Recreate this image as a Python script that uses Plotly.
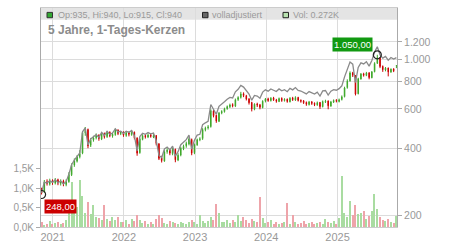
import plotly.graph_objects as go
import pandas as pd

# ---------------- data (14-day candles) ----------------
dates = pd.date_range("2020-11-05", periods=131, freq="14D")

opens = [262, 255, 283, 276, 286, 279, 289, 278, 285, 275,
         283, 304, 336, 350, 366, 380, 468, 485, 412, 436,
         446, 457, 440, 466, 451, 472, 454, 460, 483, 465,
         472, 456, 469, 460, 472, 444, 382, 438, 456, 449,
         459, 450, 456, 418, 362, 350, 386, 393, 378, 396,
         354, 373, 398, 410, 418, 438, 382, 414, 438, 442,
         484, 494, 500, 588, 562, 528, 576, 584, 602, 614,
         628, 618, 662, 676, 702, 688, 666, 642, 598, 632,
         626, 608, 652, 666, 654, 672, 658, 648, 670, 654,
         664, 646, 672, 658, 676, 656, 652, 642, 628, 646,
         636, 626, 642, 614, 646, 652, 618, 644, 656, 648,
         662, 682, 748, 802, 872, 848, 702, 818, 862, 848,
         872, 828, 882, 962, 1018, 932, 898, 916, 878, 906,
         935]
highs = [266, 288, 290, 292, 290, 294, 292, 290, 289, 290,
         312, 342, 360, 372, 392, 478, 498, 490, 445, 455,
         466, 462, 472, 470, 478, 476, 470, 490, 486, 478,
         476, 476, 475, 480, 475, 448, 446, 462, 462, 466,
         465, 462, 458, 422, 370, 392, 400, 398, 402, 398,
         380, 406, 415, 428, 448, 442, 420, 442, 448, 492,
         500, 508, 598, 595, 566, 582, 592, 608, 622, 634,
         636, 668, 684, 716, 712, 694, 670, 646, 636, 640,
         632, 656, 672, 674, 678, 680, 666, 675, 676, 670,
         668, 678, 680, 684, 680, 662, 658, 648, 652, 650,
         642, 648, 645, 655, 660, 655, 652, 662, 664, 668,
         690, 755, 815, 885, 880, 852, 828, 870, 872, 880,
         876, 888, 972, 1050, 1024, 940, 925, 920, 912, 914,
         940]
lows = [248, 252, 272, 272, 274, 275, 273, 272, 270, 270,
        280, 300, 330, 345, 360, 376, 455, 400, 405, 428,
        438, 432, 435, 442, 445, 448, 446, 455, 458, 458,
        450, 450, 452, 455, 438, 370, 378, 434, 442, 444,
        446, 444, 412, 354, 345, 348, 378, 372, 372, 346,
        350, 368, 392, 402, 412, 372, 376, 410, 430, 436,
        476, 485, 495, 550, 520, 524, 568, 578, 595, 606,
        610, 612, 652, 668, 678, 655, 628, 585, 592, 612,
        598, 604, 642, 646, 648, 652, 640, 644, 646, 648,
        640, 642, 652, 652, 648, 640, 632, 620, 622, 626,
        618, 620, 600, 610, 638, 598, 614, 638, 642, 642,
        655, 676, 740, 795, 835, 690, 698, 812, 838, 842,
        815, 824, 876, 955, 915, 880, 885, 840, 872, 878,
        915]
closes = [252, 282, 278, 285, 280, 288, 279, 284, 276, 282,
          305, 335, 352, 365, 378, 470, 488, 410, 435, 445,
          455, 442, 465, 450, 470, 455, 462, 482, 466, 470,
          458, 468, 462, 470, 445, 380, 440, 455, 450, 458,
          452, 455, 420, 360, 352, 385, 392, 380, 395, 355,
          372, 400, 408, 420, 440, 380, 415, 437, 440, 485,
          492, 498, 590, 560, 530, 575, 585, 600, 615, 625,
          620, 660, 675, 700, 690, 665, 640, 600, 630, 625,
          610, 650, 665, 655, 670, 660, 650, 668, 655, 662,
          648, 670, 660, 675, 655, 650, 640, 630, 645, 635,
          628, 640, 615, 648, 650, 620, 645, 655, 650, 660,
          680, 745, 800, 870, 850, 700, 820, 860, 850, 870,
          830, 880, 960, 1020, 930, 900, 915, 880, 905, 890,
          940]
adjusted = [252, 282, 279, 286, 281, 289, 280, 285, 277, 283,
            306, 337, 354, 367, 381, 474, 493, 414, 440, 450,
            460, 447, 471, 456, 476, 461, 468, 489, 473, 477,
            466, 477, 471, 480, 455, 389, 451, 467, 462, 470,
            464, 468, 433, 371, 363, 397, 405, 393, 409, 368,
            386, 415, 424, 437, 458, 396, 434, 458, 462, 510,
            520, 528, 628, 598, 568, 617, 630, 647, 664, 676,
            672, 716, 735, 765, 752, 726, 700, 657, 690, 686,
            670, 714, 731, 721, 738, 728, 718, 738, 724, 732,
            717, 742, 731, 748, 727, 722, 711, 701, 718, 707,
            700, 714, 686, 723, 726, 693, 721, 733, 728, 740,
            762, 836, 898, 975, 953, 787, 921, 966, 955, 978,
            934, 990, 1080, 1140, 1048, 1014, 1032, 993, 1021, 1005,
            1020]
volumes = [120, 60, 90, 150, 70, 100, 130, 80, 110, 180,
           450, 1150, 500, 520, 1200, 800, 350, 650, 330, 570,
           250, 220, 180, 560, 200, 150, 260, 190, 250, 140,
           120, 170, 90, 200, 150, 300, 180, 110, 160, 90,
           130, 80, 200, 300, 220, 110, 90, 150, 120, 100,
           80, 130, 100, 90, 140, 180, 120, 90, 300, 160,
           110, 150, 250, 180, 600, 350, 140, 120, 170, 100,
           190, 120, 320, 160, 250, 180, 110, 200, 150, 120,
           770, 220, 100, 140, 180, 90, 120, 80, 110, 130,
           620, 90, 300, 120, 80, 110, 150, 90, 100, 120,
           70, 110, 140, 90, 200, 120, 100, 150, 90, 230,
           1300, 350, 250, 670, 300, 570, 330, 350, 400, 200,
           280, 400, 850, 450, 250, 170, 150, 210, 130, 110,
           272]

price_ticks = [200, 400, 600, 800, 1000, 1200]
price_tick_text = ["200", "400", "600", "800", "1.000", "1.200"]
vol_ticks = [0, 500, 1000, 1500]
vol_tick_text = ["0,0K", "0,5K", "1,0K", "1,5K"]
year_ticks = ["2021-01-01", "2022-01-01", "2023-01-01", "2024-01-01", "2025-01-01"]
year_text = ["2021", "2022", "2023", "2024", "2025"]

title_text = "5 Jahre, 1-Tages-Kerzen"
legend_ohlc = "Op:935, Hi:940, Lo:915, Cl:940"
legend_adj = "volladjustiert"
legend_vol = "Vol: 0.272K"
low_label = "248,00"
high_label = "1.050,00"
low_idx, low_val = 0, 248
high_idx, high_val = 123, 1050

# ---------------- layout geometry ----------------
W, H = 450, 250
L, R, T, B = 41, 53, 7, 18
PW, PH = W - L - R, H - T - B


def px(x):
    return (x - L) / PW


def py(y):
    return (H - B - y) / PH


GREEN = "#3ea82a"
RED = "#cc0000"
GRAY = "#999999"

vol_colors = ["#a9dca1" if c >= o else "#eea4aa" for o, c in zip(opens, closes)]

fig = go.Figure()
fig.add_trace(go.Bar(x=dates, y=volumes, marker_color=vol_colors, marker_line_width=0,
                     width=6 * 86400000, yaxis="y", hoverinfo="skip"))
fig.add_trace(go.Scatter(x=dates, y=adjusted, mode="lines", yaxis="y2",
                         line=dict(color="#8a8a8a", width=1.3), hoverinfo="skip"))
fig.add_trace(go.Candlestick(x=dates, open=opens, high=highs, low=lows, close=closes,
                             yaxis="y2", whiskerwidth=0,
                             increasing=dict(line=dict(color=GREEN, width=1), fillcolor=GREEN),
                             decreasing=dict(line=dict(color=RED, width=1), fillcolor=RED),
                             hoverinfo="skip"))
fig.add_trace(go.Scatter(x=[dates[low_idx], dates[high_idx]], y=[low_val, high_val], mode="markers",
                         yaxis="y2", marker=dict(symbol="circle-open", size=8,
                                                 color="#222", line=dict(width=1.2)),
                         hoverinfo="skip"))

shapes = [
    dict(type="rect", xref="paper", yref="paper", x0=0, x1=1, y0=py(19), y1=1,
         fillcolor="#e4e4e4", line=dict(width=0), layer="below"),
    dict(type="rect", xref="paper", yref="paper", x0=px(47), x1=px(52.5), y0=py(17), y1=py(11.5),
         fillcolor="#33a833", line=dict(color="#333", width=1)),
    dict(type="rect", xref="paper", yref="paper", x0=px(202.5), x1=px(208), y0=py(17), y1=py(11.5),
         fillcolor="#666", line=dict(color="#222", width=1)),
    dict(type="rect", xref="paper", yref="paper", x0=px(283), x1=px(288.5), y0=py(17), y1=py(11.5),
         fillcolor="#b9e3b0", line=dict(color="#222", width=1)),
]

annos = [
    dict(text=legend_ohlc, x=px(55.5), y=py(14), xref="paper", yref="paper", xanchor="left",
         yanchor="middle", showarrow=False, font=dict(size=9, color="#9a9a9a")),
    dict(text=legend_adj, x=px(210), y=py(14), xref="paper", yref="paper", xanchor="left",
         yanchor="middle", showarrow=False, font=dict(size=9, color="#9a9a9a")),
    dict(text=legend_vol, x=px(291), y=py(14), xref="paper", yref="paper", xanchor="left",
         yanchor="middle", showarrow=False, font=dict(size=9, color="#9a9a9a")),
    dict(text="<b>" + title_text + "</b>", x=px(45.5), y=py(29.5), xref="paper", yref="paper",
         xanchor="left", yanchor="middle", showarrow=False, font=dict(size=12, color="#8c8c8c")),
    dict(text=low_label, x=dates[low_idx], y=2.394, xref="x", yref="y2", xanchor="left",
         yanchor="top", xshift=2, yshift=-4, showarrow=False, bgcolor=RED, borderpad=1,
         font=dict(size=9.5, color="white")),
    dict(text=high_label, x=dates[high_idx], y=3.0212, xref="x", yref="y2", xanchor="right",
         yanchor="bottom", xshift=-4, yshift=3, showarrow=False, bgcolor="#119911", borderpad=1,
         font=dict(size=9.5, color="white")),
]

fig.update_layout(
    width=W, height=H, margin=dict(l=L, r=R, t=T, b=B),
    paper_bgcolor="white", plot_bgcolor="white",
    showlegend=False, hovermode=False, bargap=0, boxgap=0.7,
    font=dict(family="Liberation Sans, Arial, sans-serif", color=GRAY),
    xaxis=dict(type="date", range=["2020-11-02", "2025-11-02"], tickvals=year_ticks, ticktext=year_text,
               showgrid=True, gridcolor="#dcdcdc", gridwidth=1, ticks="", tickfont=dict(size=11, color=GRAY),
               showline=True, linecolor="#cccccc", linewidth=1, mirror=True,
               rangeslider=dict(visible=False), zeroline=False),
    yaxis=dict(range=[0, 5625], tickvals=vol_ticks, ticktext=vol_tick_text, side="left",
               showgrid=False, zeroline=False, ticks="outside", ticklen=4, tickcolor="#aaa",
               showline=True, linecolor="#aaaaaa", linewidth=1, tickfont=dict(size=10, color=GRAY)),
    yaxis2=dict(type="log", range=[2.2486, 3.2311], overlaying="y", side="right",
                tickvals=price_ticks, ticktext=price_tick_text, showgrid=True, gridcolor="#dcdcdc",
                ticks="outside", ticklen=4, tickcolor="#aaa", showline=True, linecolor="#aaaaaa",
                linewidth=1, zeroline=False, tickfont=dict(size=10.5, color=GRAY)),
    shapes=shapes, annotations=annos,
)

fig.write_html("out.html")
